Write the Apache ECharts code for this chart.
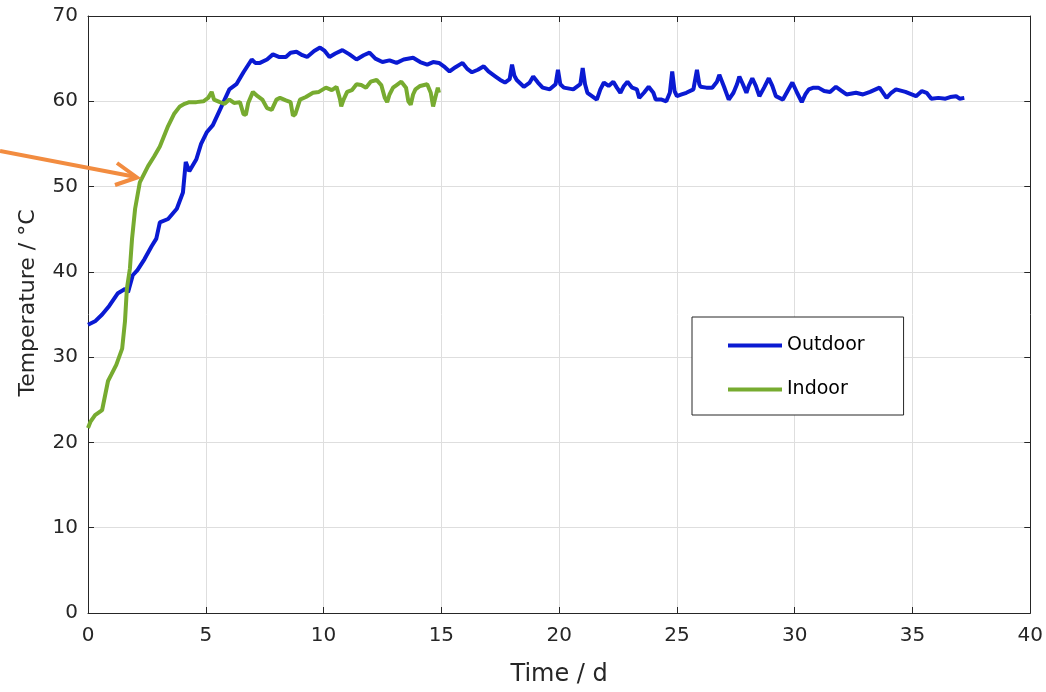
<!DOCTYPE html>
<html>
<head>
<meta charset="utf-8">
<script src="https://cdn.jsdelivr.net/npm/echarts@6/dist/echarts.min.js"></script>
<style>
html,body{margin:0;padding:0;background:#fff;}
#chart{width:1046px;height:692px;}
</style>
</head>
<body>
<div id="chart"></div>
<script>
// ---- Data (time in days, temperature in °C) ----
var xTicks = [0, 5, 10, 15, 20, 25, 30, 35, 40];
var yTicks = [0, 10, 20, 30, 40, 50, 60, 70];
var seriesNames = ['Outdoor', 'Indoor'];
var xTitle = 'Time / d';
var yTitle = 'Temperature / °C';

var outdoor = [
  [0,33.8],[0.3,34.2],[0.6,35.0],[0.9,36.0],[1.27,37.5],[1.57,38.0],[1.7,37.6],[1.9,39.6],[2.1,40.2],[2.4,41.5],
  [2.7,43.0],[2.9,43.9],[3.05,45.8],[3.4,46.2],[3.77,47.4],[4.03,49.3],[4.15,52.9],[4.3,51.8],[4.6,53.2],[4.8,55.0],
  [5.05,56.4],[5.3,57.2],[5.6,59.0],[6.0,61.4],[6.3,62.0],[6.6,63.4],[6.95,64.9],[7.1,64.5],[7.3,64.5],[7.6,64.9],
  [7.85,65.5],[8.1,65.2],[8.4,65.2],[8.6,65.7],[8.85,65.8],[9.1,65.4],[9.3,65.2],[9.6,65.9],[9.85,66.3],[10.05,65.9],
  [10.25,65.2],[10.5,65.6],[10.8,66.0],[11.1,65.5],[11.4,64.9],[11.7,65.4],[11.95,65.7],[12.2,65.0],[12.5,64.6],[12.8,64.8],
  [13.1,64.5],[13.4,64.9],[13.8,65.1],[14.1,64.6],[14.4,64.3],[14.65,64.6],[14.9,64.5],[15.15,64.0],[15.35,63.5],[15.6,64.0],
  [15.9,64.5],[16.1,63.8],[16.3,63.4],[16.55,63.7],[16.8,64.1],[17.0,63.5],[17.3,62.9],[17.5,62.5],[17.7,62.2],[17.9,62.6],
  [18.0,64.3],[18.1,63.0],[18.2,62.5],[18.5,61.7],[18.75,62.2],[18.9,62.9],[19.1,62.2],[19.3,61.6],[19.6,61.4],[19.85,62.0],
  [19.95,63.7],[20.05,62.0],[20.2,61.6],[20.6,61.4],[20.9,62.0],[21.0,63.9],[21.1,62.0],[21.2,61.0],[21.6,60.2],[21.75,61.4],
  [21.9,62.2],[22.1,61.8],[22.3,62.3],[22.45,61.6],[22.6,61.0],[22.75,61.8],[22.9,62.3],[23.1,61.6],[23.3,61.4],[23.4,60.4],
  [23.6,61.0],[23.8,61.7],[24.0,61.0],[24.1,60.2],[24.35,60.2],[24.55,60.0],[24.7,61.0],[24.8,63.5],[24.9,61.2],[25.0,60.6],
  [25.2,60.8],[25.4,61.0],[25.7,61.4],[25.85,63.7],[25.95,62.0],[26.0,61.7],[26.25,61.6],[26.5,61.6],[26.7,62.3],[26.8,63.1],
  [26.9,62.4],[27.0,61.7],[27.2,60.2],[27.4,61.0],[27.55,62.0],[27.65,62.9],[27.8,62.0],[27.95,61.0],[28.05,61.8],[28.2,62.7],
  [28.35,61.8],[28.5,60.6],[28.7,61.6],[28.9,62.7],[29.05,61.8],[29.2,60.6],[29.5,60.2],[29.7,61.2],[29.9,62.2],[30.1,61.0],
  [30.3,59.9],[30.45,60.8],[30.6,61.4],[30.8,61.6],[31.0,61.6],[31.25,61.2],[31.5,61.1],[31.75,61.7],[32.0,61.2],[32.2,60.8],
  [32.6,61.0],[32.9,60.8],[33.2,61.1],[33.6,61.6],[33.9,60.4],[34.1,61.0],[34.3,61.4],[34.7,61.1],[35.15,60.6],[35.4,61.2],
  [35.6,61.0],[35.8,60.3],[36.1,60.4],[36.4,60.3],[36.6,60.5],[36.85,60.6],[37.0,60.3],[37.2,60.4]
];

var indoor = [
  [0,21.7],[0.1,22.4],[0.3,23.2],[0.6,23.8],[0.85,27.2],[1.0,28.0],[1.2,29.1],[1.45,31.0],[1.57,34.2],[1.65,38.0],
  [1.78,40.4],[1.87,43.9],[2.0,47.4],[2.2,50.5],[2.55,52.4],[2.8,53.5],[3.05,54.7],[3.4,57.1],[3.65,58.5],[3.9,59.4],
  [4.1,59.7],[4.3,59.9],[4.6,59.9],[4.9,60.0],[5.1,60.4],[5.25,61.1],[5.35,60.2],[5.6,59.9],[5.8,59.7],[6.0,60.2],
  [6.2,59.8],[6.45,59.9],[6.6,58.5],[6.7,58.4],[6.8,59.8],[7.0,61.1],[7.2,60.6],[7.4,60.2],[7.6,59.2],[7.8,59.0],
  [8.0,60.2],[8.15,60.4],[8.4,60.1],[8.6,59.9],[8.7,58.3],[8.8,58.5],[9.0,60.2],[9.25,60.5],[9.55,61.0],[9.8,61.1],
  [10.1,61.6],[10.35,61.3],[10.55,61.7],[10.7,60.2],[10.75,59.4],[10.85,60.2],[11.0,61.1],[11.2,61.3],[11.4,62.0],[11.6,61.9],
  [11.8,61.6],[12.0,62.3],[12.25,62.5],[12.45,61.9],[12.6,60.4],[12.7,59.9],[12.8,60.8],[12.95,61.6],[13.1,61.9],[13.3,62.3],
  [13.5,61.6],[13.6,60.0],[13.7,59.6],[13.8,60.8],[13.9,61.4],[14.1,61.8],[14.4,62.0],[14.55,61.0],[14.65,59.4],[14.75,60.5],
  [14.85,61.6],[14.9,61.0]
];

var TXT = '#262626';
var FONT = '"DejaVu Sans", Verdana, sans-serif';

var chart = echarts.init(document.getElementById('chart'), null, {renderer: 'canvas'});

function baseX(pos, labels) {
  return {
    type: 'value', position: pos,
    min: xTicks[0], max: xTicks[xTicks.length - 1], interval: xTicks[1] - xTicks[0],
    axisLine: {show: true, onZero: false, lineStyle: {color: TXT, width: 1}},
    axisTick: {show: true, inside: true, length: 6, lineStyle: {color: TXT}},
    axisLabel: {show: labels, color: TXT, fontSize: 20, fontFamily: FONT, margin: 13},
    splitLine: {show: labels, lineStyle: {color: '#dedede', width: 1}}
  };
}
function baseY(pos, labels) {
  return {
    type: 'value', position: pos,
    min: yTicks[0], max: yTicks[yTicks.length - 1], interval: yTicks[1] - yTicks[0],
    axisLine: {show: true, onZero: false, lineStyle: {color: TXT, width: 1}},
    axisTick: {show: true, inside: true, length: 6, lineStyle: {color: TXT}},
    axisLabel: {show: labels, color: TXT, fontSize: 20, fontFamily: FONT, margin: 10},
    splitLine: {show: labels, lineStyle: {color: '#dedede', width: 1}}
  };
}

var xb = baseX('bottom', true);
xb.name = xTitle;
xb.nameLocation = 'middle';
xb.nameGap = 50;
xb.nameTextStyle = {color: TXT, fontSize: 24, fontFamily: FONT};

var option = {
  backgroundColor: '#ffffff',
  animation: false,
  grid: {left: 88, right: 15, top: 16, bottom: 76, containLabel: false},
  xAxis: [xb, baseX('top', false)],
  yAxis: [baseY('left', true), baseY('right', false)],
  legend: {
    orient: 'vertical', left: 692, top: 317,
    backgroundColor: '#fff',
    borderColor: TXT, borderWidth: 1,
    padding: [19, 39, 16, 36],
    itemGap: 25, itemWidth: 54, itemHeight: 4, icon: 'rect',
    textStyle: {color: '#000', fontSize: 19, fontFamily: FONT},
    data: seriesNames
  },
  series: [
    {name: seriesNames[0], type: 'line', data: outdoor, showSymbol: false,
     lineStyle: {color: '#0a1ad2', width: 4}, itemStyle: {color: '#0a1ad2'}, z: 3},
    {name: seriesNames[1], type: 'line', data: indoor, showSymbol: false,
     lineStyle: {color: '#77ab30', width: 4}, itemStyle: {color: '#77ab30'}, z: 4}
  ],
  graphic: [
    {type: 'text', z: 50, x: 28, y: 303, rotation: Math.PI / 2,
     style: {text: yTitle, fill: TXT, fontSize: 22, fontFamily: FONT, align: 'center', verticalAlign: 'middle'}},
    {type: 'polyline', z: 100, shape: {points: [[0, 151], [136, 177]]},
     style: {stroke: '#f28c40', lineWidth: 4, fill: null}},
    {type: 'polyline', z: 100, shape: {points: [[117, 163], [137, 177.5], [115, 185]]},
     style: {stroke: '#f28c40', lineWidth: 4, fill: null, lineJoin: 'miter'}}
  ]
};
chart.setOption(option);
</script>
</body>
</html>
